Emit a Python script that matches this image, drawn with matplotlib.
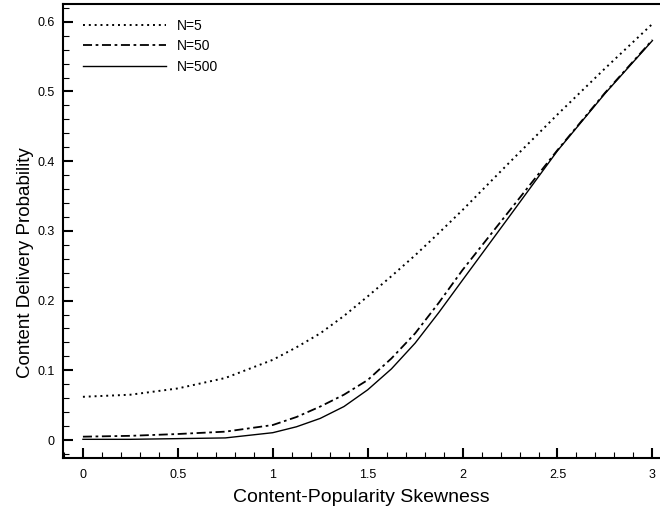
import matplotlib
matplotlib.use("Agg")
import matplotlib.pyplot as plt
from matplotlib.ticker import MultipleLocator, FuncFormatter

plt.rcParams['font.family'] = ['Liberation Sans', 'DejaVu Sans']

# values
skew = [0, 0.25, 0.5, 0.75, 1.0, 1.125, 1.25, 1.375, 1.5, 1.625, 1.75, 1.875,
        2.0, 2.25, 2.5, 2.75, 3.0]
p_n5 = [0.062, 0.065, 0.074, 0.089, 0.115, 0.133, 0.153, 0.178, 0.206, 0.235,
        0.265, 0.297, 0.33, 0.399, 0.467, 0.533, 0.597]
p_n50 = [0.0048, 0.006, 0.0086, 0.012, 0.0215, 0.033, 0.048, 0.065, 0.086, 0.117,
         0.153, 0.197, 0.244, 0.33, 0.416, 0.498, 0.574]
p_n500 = [0.001, 0.001, 0.002, 0.003, 0.0105, 0.019, 0.031, 0.048, 0.072, 0.102,
          0.139, 0.183, 0.2295, 0.322, 0.415, 0.497, 0.573]
labels = ["N=5", "N=50", "N=500"]


def main():
    fig = plt.figure(figsize=(6.6, 5.07), dpi=100)
    ax = fig.add_axes([63 / 660, 49 / 507, 597 / 660, 454 / 507])

    ax.plot(skew, p_n5, color="black", lw=1.4, linestyle=(0, (1, 2)), label=labels[0])
    ax.plot(skew, p_n50, color="black", lw=1.3, linestyle=(0, (5, 2, 1.5, 2)), label=labels[1])
    ax.plot(skew, p_n500, color="black", lw=1.0, linestyle="-", label=labels[2])

    ax.set_xlim(-0.105, 3.04)
    ax.set_ylim(-0.0258, 0.6255)

    ax.xaxis.set_major_locator(MultipleLocator(0.5))
    ax.xaxis.set_minor_locator(MultipleLocator(0.1))
    ax.yaxis.set_major_locator(MultipleLocator(0.1))
    ax.yaxis.set_minor_locator(MultipleLocator(0.02))
    fmt = FuncFormatter(lambda v, p: "%g" % round(v, 3))
    ax.xaxis.set_major_formatter(fmt)
    ax.yaxis.set_major_formatter(fmt)

    ax.tick_params(which="both", direction="in", top=False, right=False, labelsize=9)
    ax.tick_params(which="major", length=7.5, width=1.5)
    ax.tick_params(which="minor", length=4, width=0.8)
    ax.tick_params(axis="x", which="major", pad=8)
    ax.tick_params(axis="y", which="major", pad=6)

    for s in ["left", "bottom", "top"]:
        ax.spines[s].set_linewidth(1.5)
    ax.spines["right"].set_visible(False)

    ax.set_xlabel("Content-Popularity Skewness", fontsize=14, labelpad=6)
    ax.set_ylabel("Content Delivery Probability", fontsize=13.5)
    ax.yaxis.set_label_coords(-0.048, 0.431)

    ax.legend(loc="upper left", frameon=False, fontsize=10, handlelength=6,
              handletextpad=0.8, labelspacing=0.47, borderaxespad=0, borderpad=0.4,
              bbox_to_anchor=(0.024, 0.98))

    fig.savefig("out.png", dpi=100)


if __name__ == '__main__':
    main()
